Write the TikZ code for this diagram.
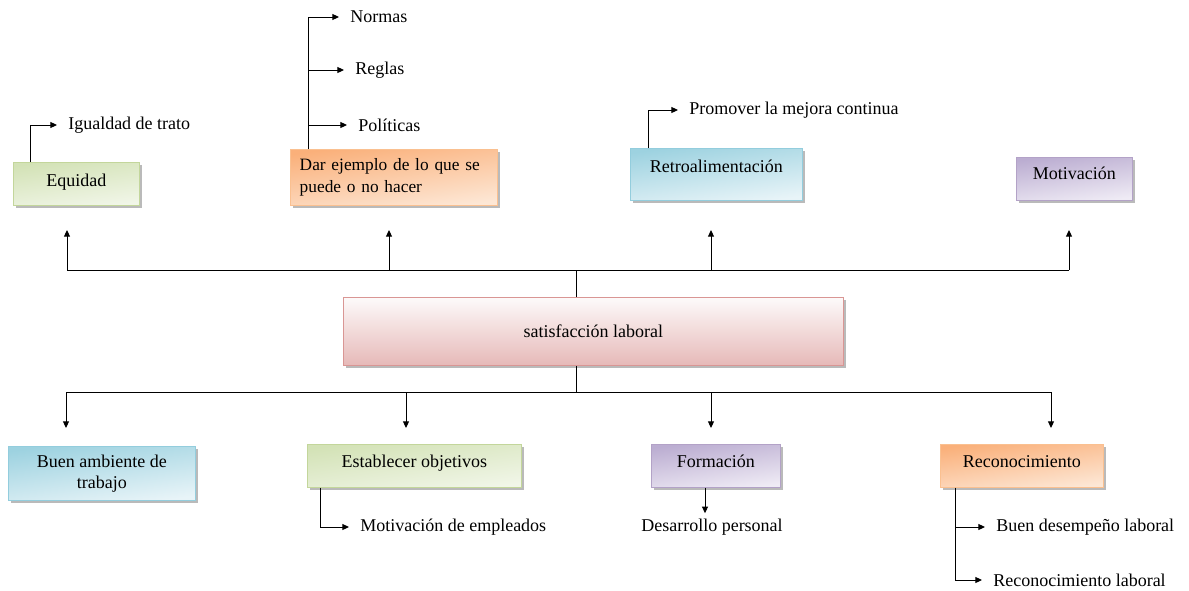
\documentclass[tikz,border=0pt]{standalone}
\usepackage{fontspec}
\setmainfont{Liberation Serif}
\usetikzlibrary{arrows.meta,shadows}

\definecolor{grnE}{HTML}{C3D69B}
\definecolor{grnA}{HTML}{D3E2B6}
\definecolor{grnB}{HTML}{F1F6E8}
\definecolor{orgE}{HTML}{FAC090}
\definecolor{orgA}{HTML}{FAB07A}
\definecolor{orgB}{HTML}{FDE7D5}
\definecolor{bluE}{HTML}{93CDDD}
\definecolor{bluA}{HTML}{9DD2E0}
\definecolor{bluB}{HTML}{E8F4F8}
\definecolor{purE}{HTML}{B3A2C7}
\definecolor{purA}{HTML}{BBADD1}
\definecolor{purB}{HTML}{EFEBF5}
\definecolor{pnkE}{HTML}{D99694}
\definecolor{pnkA}{HTML}{FDFAFA}
\definecolor{pnkB}{HTML}{E6B9B8}

\begin{document}
\begin{tikzpicture}[x=0.75pt,y=-0.75pt,
  font=\fontsize{13.5}{16}\selectfont,
  box/.style={anchor=north west, inner sep=0pt, align=center, line width=0.6pt,
    minimum height=32.25pt,
    drop shadow={shadow xshift=2pt, shadow yshift=-2pt, fill=black!45, opacity=.6}},
  gbox/.style={box, draw=grnE, top color=grnA, bottom color=grnB, shading angle=8},
  obox/.style={box, draw=orgE, top color=orgA, bottom color=orgB, shading angle=8},
  bbox/.style={box, draw=bluE, top color=bluA, bottom color=bluB, shading angle=8},
  pbox/.style={box, draw=purE, top color=purA, bottom color=purB, shading angle=8},
  rbox/.style={box, draw=pnkE, top color=pnkA, bottom color=pnkB},
  leaf/.style={anchor=west, inner xsep=8.25pt, inner ysep=0pt},
  arr/.style={-{Triangle[length=5pt,width=4.5pt]}, line width=0.75pt},
  ln/.style={line width=0.75pt}]
  \useasboundingbox (0,0) rectangle (1189,590);

  % upper row
  \node[gbox, minimum width=94.5pt, text depth=5pt] (equidad) at (13,162) {Equidad};
  \node[obox, minimum height=42pt, text width=141.25pt, inner xsep=7pt, align=left,
    font=\fontsize{13}{16}\selectfont] (dar) at (290,149)
    {Dar ejemplo de lo que se\\puede o no hacer};
  \node[bbox, minimum width=129pt, minimum height=39pt, text depth=12pt] (retro) at (630,148) {Retroalimentación};
  \node[pbox, minimum width=87pt, text depth=8pt] (motiv) at (1016,157) {Motivación};

  \node[leaf] (igual) at (57,125) {Igualdad de trato};
  \node[leaf] (normas) at (339,17) {Normas};
  \node[leaf] (reglas) at (344,70) {Reglas};
  \node[leaf] (politicas) at (347,125) {Políticas};
  \node[leaf] (promover) at (678,110) {Promover la mejora continua};

  % centre
  \node[rbox, minimum width=375pt, minimum height=51pt] (sat) at (343,297) {satisfacción laboral};

  % lower row
  \node[bbox, minimum width=140.25pt, minimum height=40.5pt] (buen) at (8,446) {Buen ambiente de\\trabajo};
  \node[gbox, minimum width=160.5pt, text depth=7pt] (estab) at (307,444) {Establecer objetivos};
  \node[pbox, minimum width=96.75pt, text depth=7pt] (form) at (651,444) {Formación};
  \node[obox, minimum width=122.25pt, text depth=7pt] (recon) at (940,444) {Reconocimiento};

  \node[leaf] (motemp) at (349,527) {Motivación de empleados};
  \node[inner xsep=0pt, inner ysep=4pt] (desa) at (712,527) {Desarrollo personal};
  \node[leaf] (buendes) at (985,527) {Buen desempeño laboral};
  \node[leaf] (reconlab) at (982,580) {Reconocimiento laboral};

  % bus lines
  \coordinate (topbus) at (576,270);
  \coordinate (botbus) at (576,392);
  \coordinate (t1) at (67,230);
  \coordinate (t2) at (389,230);
  \coordinate (t3) at (711,230);
  \coordinate (t4) at (1069,230);
  \coordinate (b1) at (66,428);
  \coordinate (b2) at (406,428);
  \coordinate (b3) at (711,428);
  \coordinate (b4) at (1051,428);

  \draw[ln] (topbus |- sat.north) -- (topbus);
  \draw[ln] (t1 |- topbus) -- (t4 |- topbus);
  \foreach \t in {t1,t2,t3,t4}
    \draw[arr] (\t |- topbus) -- (\t);
  \draw[ln] (botbus |- sat.south) -- (botbus);
  \draw[ln] (b1 |- botbus) -- (b4 |- botbus);
  \foreach \b in {b1,b2,b3,b4}
    \draw[arr] (\b |- botbus) -- (\b);

  % branches
  \draw[arr] ([shift={(17,0)}]equidad.north west) |- (igual.west);
  \coordinate (d0) at ([shift={(18,0)}]dar.north west);
  \foreach \leafname in {normas,reglas,politicas}
    \draw[arr] (d0) |- (\leafname.west);
  \draw[arr] ([shift={(18,0)}]retro.north west) |- (promover.west);
  \draw[arr] ([shift={(13,0)}]estab.south west) |- (motemp.west);
  \coordinate (f0) at ([shift={(54,0)}]form.south west);
  \draw[arr] (f0) -- (f0 |- desa.north);
  \coordinate (r0) at ([shift={(15,0)}]recon.south west);
  \foreach \leafname in {buendes,reconlab}
    \draw[arr] (r0) |- (\leafname.west);
\end{tikzpicture}
\end{document}
